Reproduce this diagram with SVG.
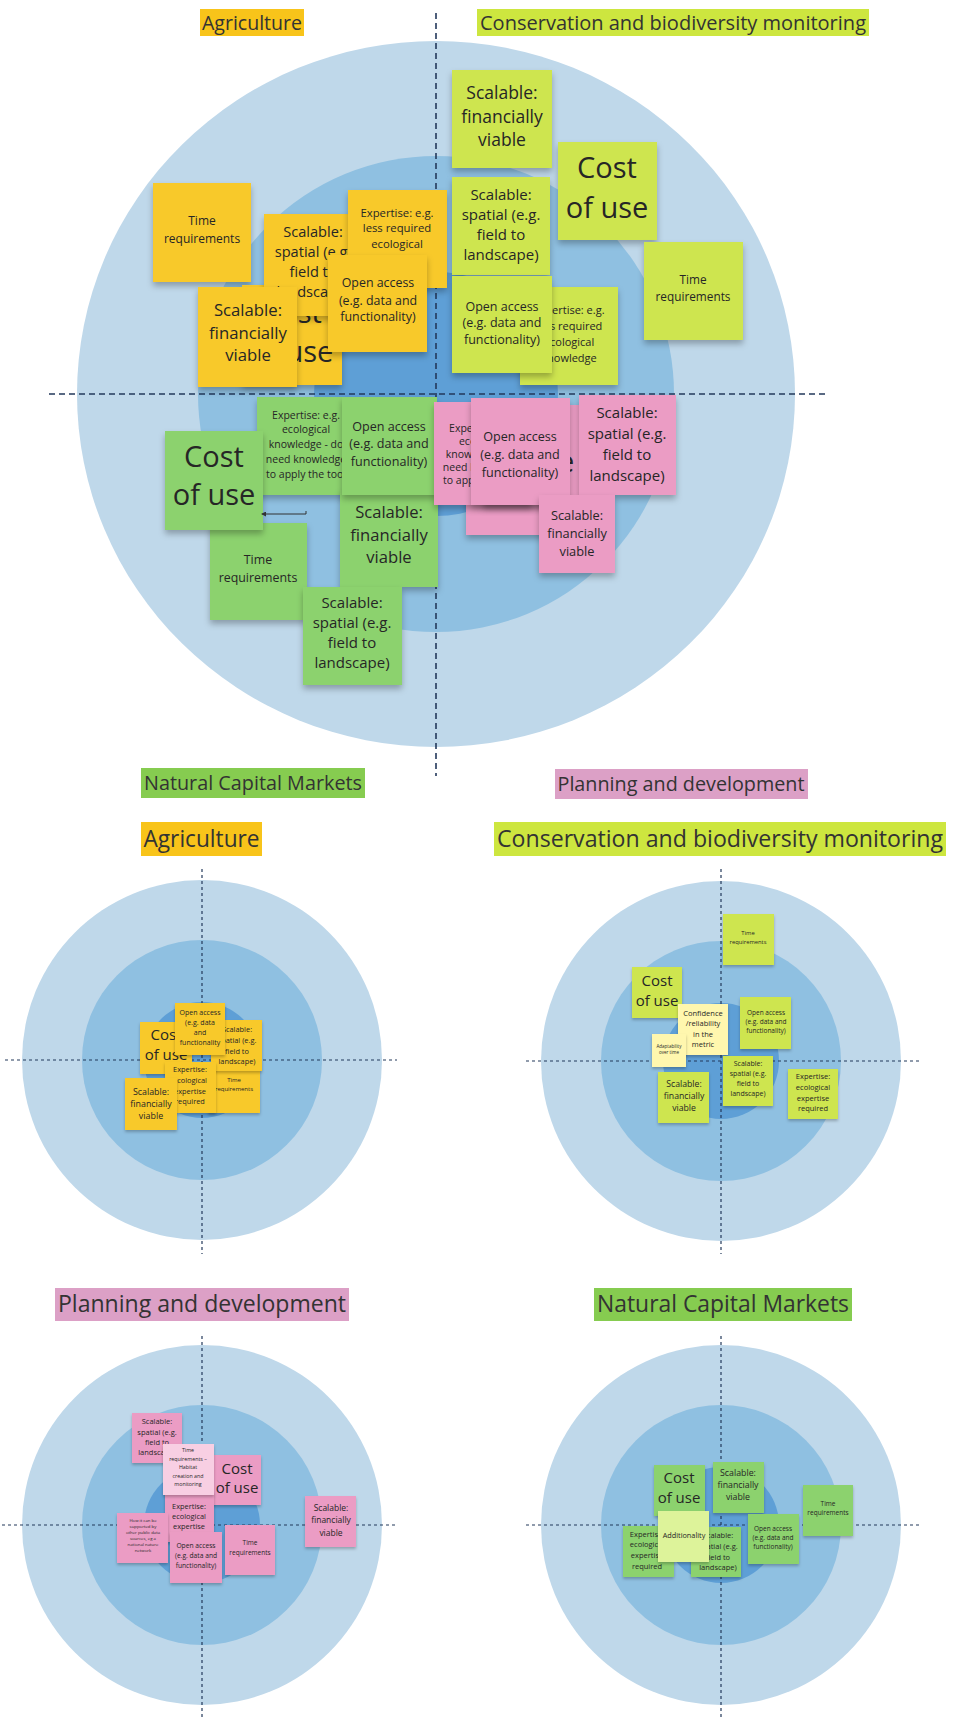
<svg xmlns="http://www.w3.org/2000/svg" width="953" height="1719" viewBox="0 0 953 1719">
<defs>
<style>
.o{fill:#BFD8EA}.m{fill:#8FC0E1}.i{fill:#5E9FD6}
.ax{stroke:#23395B;stroke-width:1.6;stroke-dasharray:6 4;fill:none}
.axs{stroke:#23395B;stroke-width:1.2;stroke-dasharray:3 3;fill:none}
.ny{fill:#F8C92C}.nl{fill:#CEE550}.ng{fill:#8CD26E}.np{fill:#EB9CC4}
.nly{fill:#FFF7AE}.nlp{fill:#F8CFE3}.nlg{fill:#DDF39A}
.big rect{filter:url(#sh)}.sm rect{filter:url(#sh2)}
text{font-family:"Open Sans","Noto Sans","Liberation Sans",sans-serif;fill:#262626;text-anchor:middle}
.lb text{fill:#333}
</style>
<filter id="sh" x="-20%" y="-20%" width="140%" height="150%"><feDropShadow dx="0" dy="4" stdDeviation="3" flood-color="#000" flood-opacity="0.28"/></filter>
<filter id="sh2" x="-20%" y="-20%" width="140%" height="150%"><feDropShadow dx="0" dy="2" stdDeviation="1.5" flood-color="#000" flood-opacity="0.25"/></filter>
<marker id="arr" markerWidth="5" markerHeight="5" refX="4" refY="2.5" orient="auto" markerUnits="userSpaceOnUse"><path d="M0,0 L5,2.5 L0,5 z" fill="#333"/></marker>
</defs>
<rect width="953" height="1719" fill="#fff"/>

<!-- ===== Top main diagram ===== -->
<g id="top-bg">
<ellipse class="o" cx="436" cy="394" rx="359" ry="353"/>
<circle class="m" cx="436" cy="394" r="238"/>
<circle class="i" cx="436" cy="394" r="122"/>
<path class="ax" d="M436 13 V776 M49 394 H826"/>
</g>
<g id="lbl-top-agri" class="lb"><rect x="200" y="9" width="104" height="27" fill="#F8C41A"/><text x="252" y="30" font-size="20" textLength="100" lengthAdjust="spacingAndGlyphs">Agriculture</text></g>
<g id="lbl-top-cons" class="lb"><rect x="477" y="9" width="392" height="27" fill="#CDE63F"/><text x="673" y="30" font-size="20" textLength="386" lengthAdjust="spacingAndGlyphs">Conservation and biodiversity monitoring</text></g>

<!-- yellow -->
<g id="top-ag-time" class="big"><rect class="ny" x="153" y="183" width="98" height="99"/><text font-size="12"><tspan x="202" y="225">Time</tspan><tspan x="202" y="243">requirements</tspan></text></g>
<g id="top-ag-cost" class="big"><rect class="ny" x="242" y="285" width="100" height="100"/><text font-size="29"><tspan x="292" y="323">Cost</tspan><tspan x="292" y="362">of use</tspan></text></g>
<g id="top-ag-spatial" class="big"><rect class="ny" x="264" y="214" width="98" height="102"/><text font-size="14.6"><tspan x="313" y="237">Scalable:</tspan><tspan x="313" y="257">spatial (e.g.</tspan><tspan x="313" y="277">field to</tspan><tspan x="313" y="297">landscape)</tspan></text></g>
<g id="top-ag-exp" class="big"><rect class="ny" x="348" y="190" width="99" height="98"/><text font-size="11.3"><tspan x="397" y="217">Expertise: e.g.</tspan><tspan x="397" y="232">less required</tspan><tspan x="397" y="248">ecological</tspan><tspan x="397" y="264">knowledge</tspan></text></g>
<g id="top-ag-open" class="big"><rect class="ny" x="328" y="255" width="99" height="97"/><text font-size="12.4"><tspan x="378" y="287">Open access</tspan><tspan x="378" y="305">(e.g. data and</tspan><tspan x="378" y="321">functionality)</tspan></text></g>
<g id="top-ag-fin" class="big"><rect class="ny" x="198" y="287" width="99" height="100"/><text font-size="16.7"><tspan x="248" y="316">Scalable:</tspan><tspan x="248" y="339">financially</tspan><tspan x="248" y="361">viable</tspan></text></g>

<!-- lime -->
<g id="top-co-fin" class="big"><rect class="nl" x="452" y="70" width="100" height="98"/><text font-size="17.5"><tspan x="502" y="99">Scalable:</tspan><tspan x="502" y="123">financially</tspan><tspan x="502" y="146">viable</tspan></text></g>
<g id="top-co-spatial" class="big"><rect class="nl" x="452" y="177" width="98" height="98"/><text font-size="15"><tspan x="501" y="200">Scalable:</tspan><tspan x="501" y="220">spatial (e.g.</tspan><tspan x="501" y="240">field to</tspan><tspan x="501" y="260">landscape)</tspan></text></g>
<g id="top-co-cost" class="big"><rect class="nl" x="558" y="142" width="99" height="98"/><text font-size="29"><tspan x="607" y="178">Cost</tspan><tspan x="607" y="218">of use</tspan></text></g>
<g id="top-co-time" class="big"><rect class="nl" x="644" y="242" width="99" height="98"/><text font-size="11.8"><tspan x="693" y="284">Time</tspan><tspan x="693" y="301">requirements</tspan></text></g>
<g id="top-co-exp" class="big"><rect class="nl" x="520" y="287" width="98" height="98"/><text font-size="11"><tspan x="569" y="314">Expertise: e.g.</tspan><tspan x="569" y="330">less required</tspan><tspan x="569" y="346">ecological</tspan><tspan x="569" y="362">knowledge</tspan></text></g>
<g id="top-co-open" class="big"><rect class="nl" x="452" y="276" width="100" height="97"/><text font-size="12.5"><tspan x="502" y="311">Open access</tspan><tspan x="502" y="327">(e.g. data and</tspan><tspan x="502" y="344">functionality)</tspan></text></g>

<!-- green -->
<g id="top-nc-exp" class="big"><rect class="ng" x="257" y="397" width="98" height="98"/><text font-size="10.5"><tspan x="306" y="419">Expertise: e.g.</tspan><tspan x="306" y="433">ecological</tspan><tspan x="306" y="448">knowledge - do</tspan><tspan x="306" y="463">need knowledge</tspan><tspan x="306" y="478">to apply the tool</tspan></text></g>
<g id="top-nc-fin" class="big"><rect class="ng" x="340" y="490" width="98" height="97"/><text font-size="16.6"><tspan x="389" y="518">Scalable:</tspan><tspan x="389" y="541">financially</tspan><tspan x="389" y="563">viable</tspan></text></g>
<g id="top-nc-open" class="big"><rect class="ng" x="342" y="397" width="95" height="98"/><text font-size="12.6"><tspan x="389" y="431">Open access</tspan><tspan x="389" y="448">(e.g. data and</tspan><tspan x="389" y="466">functionality)</tspan></text></g>
<g id="top-nc-time" class="big"><rect class="ng" x="210" y="523" width="97" height="97"/><text font-size="12.4"><tspan x="258" y="564">Time</tspan><tspan x="258" y="582">requirements</tspan></text></g>
<g id="top-nc-cost" class="big"><rect class="ng" x="165" y="431" width="98" height="99"/><text font-size="29"><tspan x="214" y="467">Cost</tspan><tspan x="214" y="505">of use</tspan></text></g>
<g id="top-nc-spatial" class="big"><rect class="ng" x="303" y="587" width="99" height="98"/><text font-size="15"><tspan x="352" y="608">Scalable:</tspan><tspan x="352" y="628">spatial (e.g.</tspan><tspan x="352" y="648">field to</tspan><tspan x="352" y="668">landscape)</tspan></text></g>

<!-- pink -->
<g id="top-pd-back" class="big"><rect class="np" x="466" y="437" width="100" height="98"/></g>
<g id="top-pd-cost" class="big"><rect class="np" x="483" y="405" width="100" height="100"/><text font-size="29"><tspan x="533" y="437">Cost</tspan><tspan x="533" y="472">of use</tspan></text></g>
<g id="top-pd-exp" class="big"><rect class="np" x="434" y="402" width="98" height="103"/><text font-size="10.5"><tspan x="483" y="432">Expertise: e.g.</tspan><tspan x="483" y="445">ecological</tspan><tspan x="483" y="458">knowledge - do</tspan><tspan x="483" y="471">need knowledge</tspan><tspan x="483" y="484">to apply the tool</tspan></text></g>
<g id="top-pd-open" class="big"><rect class="np" x="471" y="398" width="99" height="107"/><text font-size="12.6"><tspan x="520" y="441">Open access</tspan><tspan x="520" y="459">(e.g. data and</tspan><tspan x="520" y="477">functionality)</tspan></text></g>
<g id="top-pd-spatial" class="big"><rect class="np" x="579" y="395" width="97" height="100"/><text font-size="15"><tspan x="627" y="418">Scalable:</tspan><tspan x="627" y="439">spatial (e.g.</tspan><tspan x="627" y="460">field to</tspan><tspan x="627" y="481">landscape)</tspan></text></g>
<g id="top-pd-fin" class="big"><rect class="np" x="539" y="495" width="76" height="78"/><text font-size="12.8"><tspan x="577" y="520">Scalable:</tspan><tspan x="577" y="538">financially</tspan><tspan x="577" y="556">viable</tspan></text></g>

<g id="lbl-top-ncm" class="lb"><rect x="141" y="768" width="224" height="30" fill="#86CC50"/><text x="253" y="790" font-size="20" textLength="218" lengthAdjust="spacingAndGlyphs">Natural Capital Markets</text></g>
<g id="lbl-top-plan" class="lb"><rect x="555" y="769" width="253" height="30" fill="#DCA0C6"/><text x="681" y="791" font-size="20" textLength="247" lengthAdjust="spacingAndGlyphs">Planning and development</text></g>

<!-- ===== Small 1: Agriculture ===== -->
<g id="s1-bg">
<circle class="o" cx="202" cy="1060" r="180"/>
<circle class="m" cx="202" cy="1060" r="120"/>
<circle class="i" cx="202" cy="1060" r="58"/>
<path class="axs" d="M202 869 V1254 M5 1060 H397"/>
</g>
<g id="lbl-s1" class="lb"><rect x="141" y="822" width="121" height="34" fill="#F8C41A"/><text x="201.5" y="847" font-size="24" textLength="116" lengthAdjust="spacingAndGlyphs">Agriculture</text></g>
<g id="s1-cost" class="sm"><rect class="ny" x="140" y="1022" width="52" height="52"/><text font-size="15"><tspan x="166" y="1040">Cost</tspan><tspan x="166" y="1060">of use</tspan></text></g>
<g id="s1-time" class="sm"><rect class="ny" x="208" y="1062" width="52" height="51"/><text font-size="6"><tspan x="234" y="1082">Time</tspan><tspan x="234" y="1091">requirements</tspan></text></g>
<g id="s1-spatial" class="sm"><rect class="ny" x="211" y="1020" width="51" height="51"/><text font-size="7.4"><tspan x="237" y="1032">Scalable:</tspan><tspan x="237" y="1043">spatial (e.g.</tspan><tspan x="237" y="1054">field to</tspan><tspan x="237" y="1064">landscape)</tspan></text></g>
<g id="s1-open" class="sm"><rect class="ny" x="175" y="1003" width="50" height="52"/><text font-size="7"><tspan x="200" y="1015">Open access</tspan><tspan x="200" y="1025">(e.g. data</tspan><tspan x="200" y="1035">and</tspan><tspan x="200" y="1045">functionality</tspan></text></g>
<g id="s1-exp" class="sm"><rect class="ny" x="165" y="1062" width="51" height="51"/><text font-size="7.4"><tspan x="190" y="1072">Expertise:</tspan><tspan x="190" y="1083">ecological</tspan><tspan x="190" y="1094">expertise</tspan><tspan x="190" y="1104">required</tspan></text></g>
<g id="s1-fin" class="sm"><rect class="ny" x="125" y="1078" width="52" height="52"/><text font-size="8.9"><tspan x="151" y="1095">Scalable:</tspan><tspan x="151" y="1107">financially</tspan><tspan x="151" y="1119">viable</tspan></text></g>

<!-- ===== Small 2: Conservation ===== -->
<g id="s2-bg">
<circle class="o" cx="721" cy="1061" r="180"/>
<circle class="m" cx="721" cy="1061" r="120"/>
<circle class="i" cx="721" cy="1061" r="58"/>
<path class="axs" d="M721 869 V1254 M526 1061 H921"/>
</g>
<g id="lbl-s2" class="lb"><rect x="494" y="822" width="452" height="34" fill="#CDE63F"/><text x="720" y="847" font-size="24" textLength="446" lengthAdjust="spacingAndGlyphs">Conservation and biodiversity monitoring</text></g>
<g id="s2-time" class="sm"><rect class="nl" x="723" y="914" width="51" height="51"/><text font-size="5.8"><tspan x="748" y="935">Time</tspan><tspan x="748" y="944">requirements</tspan></text></g>
<g id="s2-cost" class="sm"><rect class="nl" x="632" y="967" width="50" height="51"/><text font-size="15"><tspan x="657" y="986">Cost</tspan><tspan x="657" y="1006">of use</tspan></text></g>
<g id="s2-open" class="sm"><rect class="nl" x="740" y="997" width="51" height="52"/><text font-size="6.5"><tspan x="766" y="1015">Open access</tspan><tspan x="766" y="1024">(e.g. data and</tspan><tspan x="766" y="1033">functionality)</tspan></text></g>
<g id="s2-conf" class="sm"><rect class="nly" x="678" y="1004" width="50" height="51"/><text font-size="7.5"><tspan x="703" y="1016">Confidence</tspan><tspan x="703" y="1026">/reliability</tspan><tspan x="703" y="1037">in the</tspan><tspan x="703" y="1047">metric</tspan></text></g>
<g id="s2-adapt" class="sm"><rect class="nly" x="652" y="1034" width="34" height="33"/><text font-size="4.5"><tspan x="669" y="1048">Adaptability</tspan><tspan x="669" y="1054">over time</tspan></text></g>
<g id="s2-fin" class="sm"><rect class="nl" x="658" y="1072" width="51" height="51"/><text font-size="8.7"><tspan x="684" y="1087">Scalable:</tspan><tspan x="684" y="1099">financially</tspan><tspan x="684" y="1111">viable</tspan></text></g>
<g id="s2-spatial" class="sm"><rect class="nl" x="723" y="1056" width="50" height="50"/><text font-size="7"><tspan x="748" y="1066">Scalable:</tspan><tspan x="748" y="1076">spatial (e.g.</tspan><tspan x="748" y="1086">field to</tspan><tspan x="748" y="1096">landscape)</tspan></text></g>
<g id="s2-exp" class="sm"><rect class="nl" x="788" y="1069" width="50" height="50"/><text font-size="7.5"><tspan x="813" y="1079">Expertise:</tspan><tspan x="813" y="1090">ecological</tspan><tspan x="813" y="1101">expertise</tspan><tspan x="813" y="1111">required</tspan></text></g>

<!-- ===== Small 3: Planning ===== -->
<g id="s3-bg">
<circle class="o" cx="202" cy="1525" r="180"/>
<circle class="m" cx="202" cy="1525" r="120"/>
<circle class="i" cx="202" cy="1525" r="58"/>
<path class="axs" d="M202 1336 V1719 M2 1525 H397"/>
</g>
<g id="lbl-s3" class="lb"><rect x="55" y="1288" width="294" height="33" fill="#DCA0C6"/><text x="202" y="1312" font-size="24" textLength="288" lengthAdjust="spacingAndGlyphs">Planning and development</text></g>
<g id="s3-spatial" class="sm"><rect class="np" x="132" y="1413" width="50" height="50"/><text font-size="7.5"><tspan x="157" y="1424">Scalable:</tspan><tspan x="157" y="1435">spatial (e.g.</tspan><tspan x="157" y="1445">field to</tspan><tspan x="157" y="1455">landscape)</tspan></text></g>
<g id="s3-cost" class="sm"><rect class="np" x="212" y="1455" width="49" height="50"/><text font-size="15"><tspan x="237" y="1474">Cost</tspan><tspan x="237" y="1493">of use</tspan></text></g>
<g id="s3-exp" class="sm"><rect class="np" x="165" y="1492" width="49" height="50"/><text font-size="7.4"><tspan x="189" y="1509">Expertise:</tspan><tspan x="189" y="1519">ecological</tspan><tspan x="189" y="1529">expertise</tspan></text></g>
<g id="s3-habitat" class="sm"><rect class="nlp" x="163" y="1444" width="51" height="51"/><text font-size="5.3"><tspan x="188" y="1452">Time</tspan><tspan x="188" y="1460.5">requirements –</tspan><tspan x="188" y="1469">Habitat</tspan><tspan x="188" y="1477.5">creation and</tspan><tspan x="188" y="1486">monitoring</tspan></text></g>
<g id="s3-how" class="sm"><rect class="np" x="117" y="1513" width="51" height="50"/><text font-size="4.3"><tspan x="143" y="1522">How it can be</tspan><tspan x="143" y="1528">supported by</tspan><tspan x="143" y="1534">other public data</tspan><tspan x="143" y="1540">sources, eg a</tspan><tspan x="143" y="1546">national nature</tspan><tspan x="143" y="1552">network</tspan></text></g>
<g id="s3-open" class="sm"><rect class="np" x="170" y="1532" width="52" height="51"/><text font-size="6.7"><tspan x="196" y="1548">Open access</tspan><tspan x="196" y="1558">(e.g. data and</tspan><tspan x="196" y="1568">functionality)</tspan></text></g>
<g id="s3-time" class="sm"><rect class="np" x="225" y="1525" width="50" height="50"/><text font-size="6.5"><tspan x="250" y="1545">Time</tspan><tspan x="250" y="1555">requirements</tspan></text></g>
<g id="s3-fin" class="sm"><rect class="np" x="305" y="1496" width="51" height="51"/><text font-size="8.5"><tspan x="331" y="1511">Scalable:</tspan><tspan x="331" y="1523">financially</tspan><tspan x="331" y="1536">viable</tspan></text></g>

<!-- ===== Small 4: Natural Capital Markets ===== -->
<g id="s4-bg">
<circle class="o" cx="721" cy="1525" r="180"/>
<circle class="m" cx="721" cy="1525" r="120"/>
<circle class="i" cx="721" cy="1525" r="58"/>
<path class="axs" d="M721 1336 V1719 M526 1525 H921"/>
</g>
<g id="lbl-s4" class="lb"><rect x="594" y="1288" width="258" height="33" fill="#86CC50"/><text x="723" y="1312" font-size="24" textLength="252" lengthAdjust="spacingAndGlyphs">Natural Capital Markets</text></g>
<g id="s4-cost" class="sm"><rect class="ng" x="654" y="1465" width="51" height="51"/><text font-size="15"><tspan x="679" y="1483">Cost</tspan><tspan x="679" y="1503">of use</tspan></text></g>
<g id="s4-fin" class="sm"><rect class="ng" x="713" y="1462" width="51" height="51"/><text font-size="8.8"><tspan x="738" y="1476">Scalable:</tspan><tspan x="738" y="1488">financially</tspan><tspan x="738" y="1500">viable</tspan></text></g>
<g id="s4-time" class="sm"><rect class="ng" x="803" y="1485" width="50" height="51"/><text font-size="6.5"><tspan x="828" y="1506">Time</tspan><tspan x="828" y="1515">requirements</tspan></text></g>
<g id="s4-exp" class="sm"><rect class="ng" x="623" y="1526" width="51" height="51"/><text font-size="7.5"><tspan x="647" y="1537">Expertise:</tspan><tspan x="647" y="1547">ecological</tspan><tspan x="647" y="1558">expertise</tspan><tspan x="647" y="1569">required</tspan></text></g>
<g id="s4-spatial" class="sm"><rect class="ng" x="691" y="1527" width="50" height="50"/><text font-size="7.5"><tspan x="718" y="1538">Scalable:</tspan><tspan x="718" y="1549">spatial (e.g.</tspan><tspan x="718" y="1560">field to</tspan><tspan x="718" y="1570">landscape)</tspan></text></g>
<g id="s4-open" class="sm"><rect class="ng" x="748" y="1514" width="51" height="50"/><text font-size="6.5"><tspan x="773" y="1531">Open access</tspan><tspan x="773" y="1540">(e.g. data and</tspan><tspan x="773" y="1549">functionality)</tspan></text></g>
<g id="s4-add" class="sm"><rect class="nlg" x="658" y="1511" width="51" height="51"/><text font-size="7.3"><tspan x="684" y="1538">Additionality</tspan></text></g>

<g id="connectors"><path d="M306 511 V514 H262" stroke="#333" stroke-width="1" fill="none" marker-end="url(#arr)"/></g>
</svg>
